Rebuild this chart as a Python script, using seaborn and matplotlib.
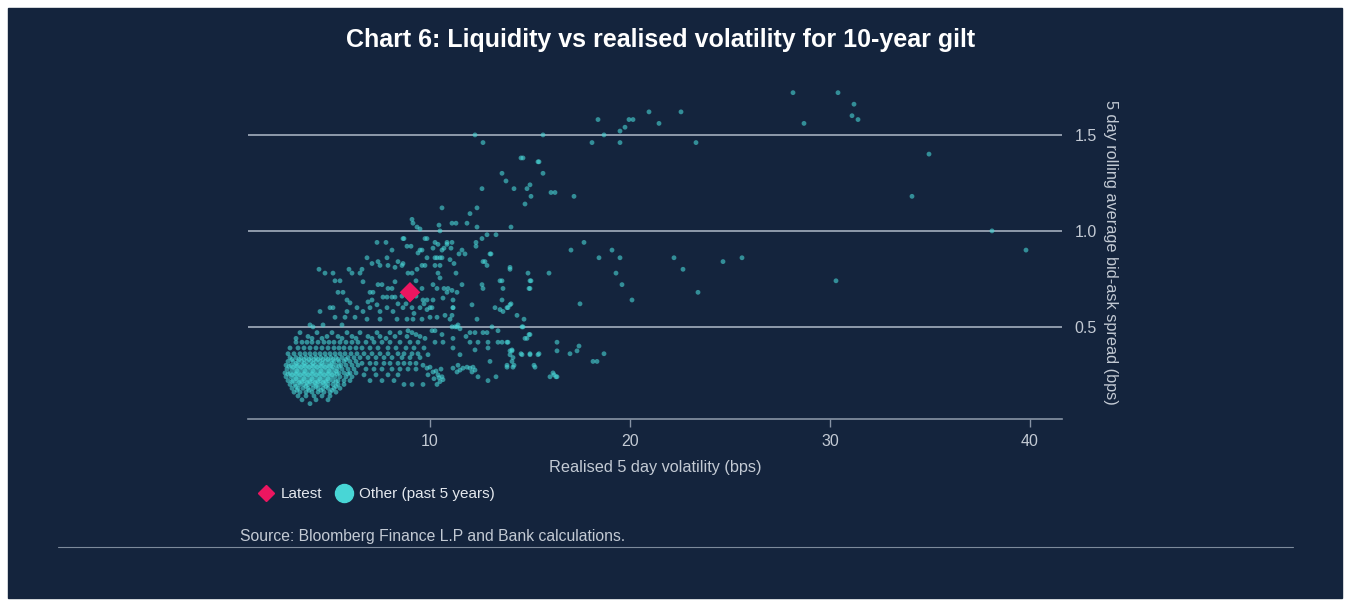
import matplotlib
matplotlib.use("Agg")
import matplotlib.pyplot as plt
from matplotlib.lines import Line2D
from matplotlib.patches import Rectangle
import seaborn as sns
import pandas as pd

# Chart 6: liquidity vs realised volatility, 10-year gilt
# values (x = volatility bps, y = spread bps)

latest_x = [9.0]
latest_y = [0.68]

# sparse points, high spreads / high volatility
upper_pts = [
    (12.25, 1.50), (12.65, 1.46), (14.65, 1.38), (14.55, 1.38), (15.4, 1.36),
    (13.6, 1.30), (13.8, 1.26), (14.2, 1.22), (14.85, 1.22), (15.0, 1.24),
    (15.05, 1.18), (14.75, 1.14), (12.6, 1.22), (10.6, 1.12), (12.35, 1.12),
    (12.0, 1.09), (11.85, 1.04), (11.1, 1.04), (11.3, 1.04), (12.35, 1.02),
    (14.05, 1.02), (10.45, 1.03), (10.5, 1.00), (9.1, 1.06), (9.35, 1.02),
    (9.5, 1.01), (9.15, 1.04), (28.15, 1.72), (18.4, 1.58), (20.95, 1.62),
    (22.55, 1.62), (19.95, 1.58), (20.15, 1.58), (21.45, 1.56), (19.75, 1.54),
    (19.5, 1.52), (18.7, 1.50), (15.65, 1.50), (18.1, 1.46), (19.5, 1.46),
    (23.3, 1.46), (15.45, 1.36), (15.65, 1.30), (16.05, 1.20), (16.25, 1.20),
    (17.2, 1.18), (30.4, 1.72), (28.7, 1.56), (31.2, 1.66), (31.1, 1.60),
    (31.4, 1.58), (34.95, 1.40), (34.1, 1.18), (38.1, 1.00), (39.8, 0.90),
    (30.3, 0.74),
]

# middle band, roughly 0.6 - 1.0
mid_pts = [
    (12.85, 0.98), (13.3, 0.98), (12.6, 0.96), (12.3, 0.94), (12.3, 0.92),
    (13.05, 0.88), (12.75, 0.84), (12.85, 0.82), (14.0, 0.81), (14.0, 0.80),
    (14.9, 0.78), (17.7, 0.94), (17.05, 0.90), (18.45, 0.86), (19.1, 0.90),
    (19.5, 0.86), (22.2, 0.86), (22.65, 0.80), (24.65, 0.84), (25.6, 0.86),
    (15.95, 0.78), (19.3, 0.78), (23.4, 0.68), (19.6, 0.72), (20.1, 0.64),
    (17.5, 0.62), (15.0, 0.74), (15.0, 0.70), (13.6, 0.74), (13.65, 0.70),
    (13.6, 0.64), (14.05, 0.62), (13.85, 0.60), (13.65, 0.58), (9.75, 0.96),
    (9.85, 0.96), (10.25, 0.94), (10.85, 0.94), (11.1, 0.94), (9.6, 0.90),
    (10.15, 0.91), (10.4, 0.93), (10.6, 0.90), (10.7, 0.91), (11.05, 0.91),
    (11.6, 0.90), (11.45, 0.88), (11.75, 0.88), (13.0, 0.88), (9.85, 0.86),
    (10.25, 0.86), (10.5, 0.86), (10.6, 0.86), (11.0, 0.85), (11.2, 0.83),
    (12.65, 0.84), (9.6, 0.82), (9.75, 0.82), (10.25, 0.82), (10.5, 0.82),
    (10.4, 0.78), (10.5, 0.755), (10.15, 0.72), (10.35, 0.70), (10.7, 0.70),
    (10.9, 0.70), (11.1, 0.69), (11.3, 0.78), (11.6, 0.72), (11.35, 0.68),
    (10.85, 0.68), (10.65, 0.65), (12.6, 0.72), (12.65, 0.70), (13.5, 0.74),
    (15.05, 0.74), (14.95, 0.70), (9.65, 0.64), (9.85, 0.64), (10.15, 0.64),
    (11.15, 0.64), (12.1, 0.615), (14.0, 0.615), (10.0, 0.60), (11.15, 0.60),
    (8.7, 0.96), (7.35, 0.94), (7.8, 0.94), (8.85, 0.92), (9.05, 0.92),
    (8.65, 0.96), (9.4, 0.885), (9.5, 0.90), (8.1, 0.90), (6.85, 0.86),
    (7.1, 0.83), (7.4, 0.84), (7.5, 0.82), (7.85, 0.86), (8.4, 0.84),
    (8.6, 0.82), (8.65, 0.83), (8.25, 0.81), (7.9, 0.82), (8.9, 0.78),
    (9.1, 0.78), (9.35, 0.80), (6.6, 0.80), (5.95, 0.80), (6.1, 0.78),
    (4.45, 0.80), (4.75, 0.78), (5.15, 0.78), (6.5, 0.78), (5.25, 0.74),
    (5.5, 0.74), (6.65, 0.735), (7.4, 0.72), (7.6, 0.72), (7.9, 0.70),
    (8.1, 0.70), (8.25, 0.735), (9.3, 0.74), (5.4, 0.68), (5.65, 0.68),
    (7.0, 0.68), (7.15, 0.68), (7.65, 0.655), (7.85, 0.655), (8.1, 0.655),
    (8.25, 0.655), (5.85, 0.64), (6.0, 0.625), (6.9, 0.63), (7.1, 0.64),
    (7.35, 0.615), (5.15, 0.60), (8.6, 0.66), (9.3, 0.66), (9.6, 0.70),
    (9.7, 0.62), (8.8, 0.62), (8.4, 0.62), (10.35, 0.86), (10.85, 0.93),
]

# lower band, roughly 0.2 - 0.6, right of the main cluster
low_pts = [
    (14.35, 0.56), (14.7, 0.54), (14.65, 0.50), (14.6, 0.50), (14.95, 0.46),
    (14.75, 0.44), (13.9, 0.42), (13.6, 0.42), (14.0, 0.375), (14.1, 0.375),
    (14.15, 0.34), (13.85, 0.30), (14.2, 0.30), (14.55, 0.36), (15.0, 0.36),
    (15.45, 0.36), (15.2, 0.30), (16.35, 0.42), (16.35, 0.375), (17.0, 0.36),
    (17.35, 0.375), (17.45, 0.40), (18.7, 0.36), (18.15, 0.32), (18.35, 0.32),
    (16.15, 0.26), (16.0, 0.24), (16.3, 0.24), (16.2, 0.25),
    (4.5, 0.58), (5.0, 0.60), (5.85, 0.58), (6.35, 0.60), (6.65, 0.58),
    (7.0, 0.60), (7.5, 0.58), (7.85, 0.60), (8.15, 0.58), (8.65, 0.60),
    (9.1, 0.60), (9.5, 0.60), (9.2, 0.57), (5.25, 0.55), (5.75, 0.55),
    (6.25, 0.55), (6.85, 0.54), (7.5, 0.54), (8.35, 0.54), (8.85, 0.54),
    (9.15, 0.54), (4.0, 0.51), (4.15, 0.50), (4.65, 0.51), (5.6, 0.51),
    (12.35, 0.54), (11.15, 0.60), (11.1, 0.56), (11.0, 0.54), (10.1, 0.60),
    (9.85, 0.59), (10.0, 0.55), (9.6, 0.54), (10.35, 0.55), (10.75, 0.56),
    (13.25, 0.60), (13.5, 0.59), (13.9, 0.60), (11.1, 0.50), (11.25, 0.50),
    (11.35, 0.50), (11.5, 0.49), (11.4, 0.51), (10.1, 0.48), (10.25, 0.48),
    (13.4, 0.48), (13.1, 0.50), (12.0, 0.47), (12.25, 0.47), (12.65, 0.47),
    (12.85, 0.47), (15.0, 0.46), (14.85, 0.44), (11.15, 0.44), (10.65, 0.42),
    (10.25, 0.42), (12.0, 0.42), (12.4, 0.42), (12.9, 0.42), (13.4, 0.42),
    (13.85, 0.42), (9.9, 0.355), (11.15, 0.39), (12.25, 0.38), (11.5, 0.355),
    (12.9, 0.39), (14.1, 0.38), (14.0, 0.355), (14.6, 0.355), (15.0, 0.355),
    (15.4, 0.355), (13.0, 0.32), (13.85, 0.29), (14.15, 0.29), (15.25, 0.29),
    (16.35, 0.24), (14.1, 0.32), (9.65, 0.30), (9.85, 0.285), (10.0, 0.29),
    (10.15, 0.265), (10.4, 0.25), (10.6, 0.24), (10.65, 0.225), (10.5, 0.215),
    (10.35, 0.20), (9.65, 0.20), (11.15, 0.285), (11.35, 0.265), (11.5, 0.275),
    (11.65, 0.285), (11.85, 0.29), (12.0, 0.285), (12.15, 0.29), (12.1, 0.265),
    (12.25, 0.275), (12.4, 0.24), (11.4, 0.30), (10.2, 0.23), (10.45, 0.235),
    (10.3, 0.27), (9.9, 0.25), (10.55, 0.28), (12.9, 0.22), (13.3, 0.24),
    (9.75, 0.44), (9.3, 0.46), (8.9, 0.48), (10.6, 0.46), (11.8, 0.45),
]

# dense cluster at low volatility: (spread level, volatilities on that row)
cluster_rows = [
    (0.47, [3.5, 4.35, 5.1, 5.85, 6.5, 7.35, 8.0, 8.5, 9.1]),
    (0.45, [3.9, 4.85, 5.4, 6.1, 6.9, 7.5, 8.25, 8.85, 9.5]),
    (0.44, [3.3, 4.1, 4.6, 5.6, 6.3, 7.1, 7.8]),
    (0.42, [3.3, 3.6, 3.85, 4.1, 4.4, 4.7, 4.95, 5.2, 5.5, 5.8, 6.1, 6.4,
            6.8, 7.2, 7.6, 8.0, 8.5, 9.0, 9.4]),
    (0.39, [3.0, 3.4, 3.7, 4.0, 4.3, 4.6, 4.9, 5.2, 5.45, 5.7, 6.0, 6.3,
            6.6, 7.0, 7.4, 7.9, 8.3, 8.8, 9.2, 9.7]),
    (0.36, [2.9, 3.2, 3.5, 3.75, 4.0, 4.25, 4.5, 4.75, 5.0, 5.25, 5.5, 5.75,
            6.05, 6.35, 6.7, 7.1, 7.5, 7.9, 8.4, 8.7, 9.1, 9.4]),
    (0.34, [3.0, 3.3, 3.55, 3.8, 4.05, 4.3, 4.55, 4.8, 5.05, 5.3, 5.6, 5.9,
            6.2, 6.5, 6.9, 7.3, 7.7, 8.1, 8.6, 9.0, 9.5]),
    (0.33, [3.1, 3.45, 3.7, 3.95, 4.2, 4.4, 4.65, 4.9, 5.15, 5.4, 5.8]),
    (0.32, [2.9, 3.15, 3.4, 3.6, 3.85, 4.05, 4.3, 4.5, 4.75, 4.95, 5.2, 5.45,
            5.7, 6.0, 6.3]),
    (0.31, [3.3, 3.7, 4.15, 4.6, 5.1, 6.6, 7.0, 7.3, 7.7, 8.0, 8.4, 8.7,
            9.0, 9.3]),
    (0.30, [2.8, 3.05, 3.25, 3.45, 3.65, 3.85, 4.05, 4.25, 4.45, 4.65, 4.85,
            5.05, 5.3, 5.55, 5.8, 6.1, 6.4]),
    (0.295, [2.95, 3.35, 3.75, 4.15, 4.55, 4.95, 5.45]),
    (0.29, [3.15, 3.55, 3.95, 4.35, 4.75, 5.15]),
    (0.28, [2.85, 3.1, 3.3, 3.5, 3.7, 3.9, 4.1, 4.3, 4.5, 4.7, 4.9, 5.1,
            5.35, 5.6, 5.9, 6.2, 6.8, 7.2, 7.6, 8.1, 8.5, 8.9, 9.3]),
    (0.27, [3.35, 3.75, 4.15, 4.55, 4.95, 5.3]),
    (0.26, [2.75, 3.0, 3.2, 3.4, 3.6, 3.8, 4.0, 4.2, 4.4, 4.6, 4.8, 5.0,
            5.2, 5.45, 5.7, 6.0, 6.3]),
    (0.255, [2.9, 3.3, 3.7, 4.1, 4.5, 4.9, 5.35, 5.9]),
    (0.25, [3.1, 3.5, 3.9, 4.3, 4.7, 5.1, 6.7, 7.3, 7.9, 8.4]),
    (0.24, [2.8, 3.05, 3.25, 3.45, 3.65, 3.85, 4.05, 4.25, 4.45, 4.65, 4.85,
            5.05, 5.25, 5.5, 5.8, 6.1]),
    (0.23, [3.3, 3.7, 4.1, 4.5, 4.9]),
    (0.22, [2.9, 3.15, 3.35, 3.55, 3.75, 3.95, 4.15, 4.35, 4.55, 4.75, 4.95,
            5.15, 5.4, 5.7, 6.0, 7.0, 7.6, 8.2]),
    (0.215, [3.1, 3.6, 4.0, 4.4, 4.8, 5.3]),
    (0.21, [3.45, 3.85, 4.25, 4.65]),
    (0.20, [3.0, 3.25, 3.5, 3.7, 3.9, 4.1, 4.3, 4.5, 4.7, 4.9, 5.15, 5.4,
            5.7, 8.7, 9.1]),
    (0.19, [3.3, 3.8, 4.3, 4.8, 5.3]),
    (0.18, [3.1, 3.4, 3.65, 3.9, 4.15, 4.4, 4.65, 4.9, 5.2, 5.5]),
    (0.17, [3.35, 3.95, 4.55, 5.1]),
    (0.16, [3.2, 3.5, 3.8, 4.1, 4.4, 4.7, 5.0, 5.3]),
    (0.14, [3.4, 3.8, 4.2, 4.6, 5.0]),
    (0.12, [3.6, 4.3, 4.9]),
    (0.10, [4.0]),
]

pts = upper_pts + mid_pts + low_pts
for lvl, xs in cluster_rows:
    pts += [(x, lvl) for x in xs]
df = pd.DataFrame(pts, columns=["vol", "spread"])
df_latest = pd.DataFrame({"vol": latest_x, "spread": latest_y})

BG = "#14243d"
CYAN = "#48d6d6"
PINK = "#ec1660"
LIGHT = "#c3cad4"
GRID = "#a3afbe"

sns.set_style("dark", {"axes.facecolor": BG, "figure.facecolor": "white"})
plt.rcParams["font.family"] = ["Liberation Sans", "DejaVu Sans"]

fig = plt.figure(figsize=(13.45, 6.03), dpi=100)
# navy panel inside a thin white border
fig.patches.append(Rectangle((8 / 1345, 5 / 603), 1334 / 1345, 590 / 603,
                             transform=fig.transFigure, color=BG, zorder=-10))

ax = fig.add_axes([248 / 1345, 1 - 419 / 603, 814 / 1345, 334 / 603])
ax.set_zorder(2)
ax.set_facecolor(BG)

sns.scatterplot(data=df, x="vol", y="spread", ax=ax, color=CYAN, s=12,
                alpha=0.6, edgecolor="none", legend=False, zorder=3)
sns.scatterplot(data=df_latest, x="vol", y="spread", ax=ax, color=PINK,
                marker="D", s=110, edgecolor="none", legend=False, zorder=4)

ax.set_xlim(0.9, 41.6)
ax.set_ylim(0.02, 1.76)
ax.set_xticks([10, 20, 30, 40])
ax.set_yticks([0.5, 1.0, 1.5])
ax.set_yticklabels(["0.5", "1.0", "1.5"])
for v in [0.5, 1.0, 1.5]:
    ax.axhline(v, color=GRID, lw=1.2, zorder=1)

for side in ["top", "left", "right"]:
    ax.spines[side].set_visible(False)
ax.spines["bottom"].set_color("#8894a5")
ax.spines["bottom"].set_linewidth(1.2)
ax.grid(False)

ax.yaxis.tick_right()
ax.yaxis.set_label_position("right")
ax.tick_params(axis="y", length=0, pad=9, labelsize=11.5, labelcolor=LIGHT)
ax.tick_params(axis="x", length=6, width=1, color="#8894a5", pad=5,
               labelsize=11.5, labelcolor=LIGHT, bottom=True)

ax.set_xlabel("Realised 5 day volatility (bps)", color=LIGHT, fontsize=11.7,
              labelpad=8)
ax.set_ylabel("5 day rolling average bid-ask spread (bps)", color=LIGHT,
              fontsize=11.7, rotation=270, labelpad=15)

fig.text(661 / 1345, 1 - 40 / 603,
         "Chart 6: Liquidity vs realised volatility for 10-year gilt",
         ha="center", va="center", color="white", fontsize=18,
         fontweight="bold")

handles = [
    Line2D([], [], marker="D", ls="", color=PINK, markersize=8.5),
    Line2D([], [], marker="o", ls="", color=CYAN, markersize=13),
]
fig.legend(handles, ["Latest", "Other (past 5 years)"], ncol=2,
           loc="center left", bbox_to_anchor=(258 / 1345, 1 - 494 / 603),
           frameon=False, fontsize=11, labelcolor="#e4e8ee",
           handlelength=1.0, handletextpad=0.5, columnspacing=0.9,
           borderpad=0, borderaxespad=0)

fig.text(240 / 1345, 1 - 536 / 603,
         "Source: Bloomberg Finance L.P and Bank calculations.",
         ha="left", va="center", color=LIGHT, fontsize=11.3)
fig.add_artist(Line2D([58 / 1345, 1293 / 1345], [1 - 547 / 603, 1 - 547 / 603],
                      transform=fig.transFigure, color="#7d8a9b", lw=0.8))

fig.savefig("out.png", dpi=100)
